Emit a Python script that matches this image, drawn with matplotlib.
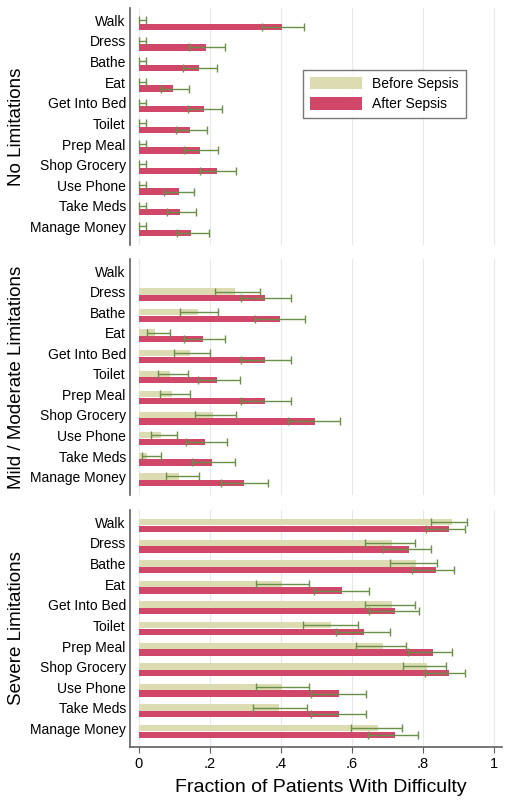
import numpy as np
import matplotlib
matplotlib.use("Agg")
import matplotlib.pyplot as plt
from matplotlib.patches import Patch

plt.rcParams['font.family'] = ['Liberation Sans', 'DejaVu Sans']

activities = ["Walk", "Dress", "Bathe", "Eat", "Get Into Bed", "Toilet",
              "Prep Meal", "Shop Grocery", "Use Phone", "Take Meds", "Manage Money"]
panel_titles = ["No Limitations", "Mild / Moderate Limitations", "Severe Limitations"]
series_labels = ["Before Sepsis", "After Sepsis"]
xtick_vals = [0, 0.2, 0.4, 0.6, 0.8, 1.0]
xtick_labels = ["0", ".2", ".4", ".6", ".8", "1"]
xlabel = "Fraction of Patients With Difficulty"

nan = np.nan
# No limitations
none_before = [0, 0, 0, 0, 0, 0, 0, 0, 0, 0, 0]
none_before_lo = [0, 0, 0, 0, 0, 0, 0, 0, 0, 0, 0]
none_before_hi = [0.019] * 11
none_after = [0.404, 0.189, 0.168, 0.097, 0.182, 0.144, 0.171, 0.220, 0.112, 0.115, 0.148]
none_after_lo = [0.347, 0.142, 0.123, 0.063, 0.139, 0.104, 0.126, 0.172, 0.072, 0.078, 0.106]
none_after_hi = [0.464, 0.243, 0.219, 0.140, 0.235, 0.192, 0.222, 0.273, 0.156, 0.160, 0.197]
# Mild / moderate
mild_before = [nan, 0.271, 0.165, 0.046, 0.144, 0.087, 0.092, 0.210, 0.061, 0.023, 0.112]
mild_before_lo = [nan, 0.215, 0.116, 0.023, 0.100, 0.053, 0.059, 0.158, 0.035, 0.009, 0.075]
mild_before_hi = [nan, 0.340, 0.224, 0.088, 0.201, 0.137, 0.143, 0.273, 0.106, 0.061, 0.168]
mild_after = [nan, 0.356, 0.397, 0.180, 0.356, 0.221, 0.356, 0.495, 0.186, 0.207, 0.295]
mild_after_lo = [nan, 0.288, 0.328, 0.128, 0.288, 0.166, 0.288, 0.419, 0.132, 0.150, 0.230]
mild_after_hi = [nan, 0.427, 0.468, 0.243, 0.427, 0.286, 0.427, 0.566, 0.249, 0.271, 0.363]
# Severe
sev_before = [0.881, 0.711, 0.780, 0.402, 0.711, 0.540, 0.687, 0.811, 0.402, 0.394, 0.673]
sev_before_lo = [0.821, 0.637, 0.708, 0.329, 0.637, 0.463, 0.612, 0.743, 0.329, 0.322, 0.597]
sev_before_hi = [0.923, 0.777, 0.839, 0.480, 0.777, 0.617, 0.753, 0.865, 0.480, 0.474, 0.741]
sev_after = [0.874, 0.761, 0.836, 0.571, 0.722, 0.635, 0.828, 0.872, 0.563, 0.563, 0.721]
sev_after_lo = [0.807, 0.687, 0.769, 0.492, 0.647, 0.555, 0.758, 0.805, 0.484, 0.484, 0.645]
sev_after_hi = [0.919, 0.822, 0.886, 0.647, 0.787, 0.706, 0.881, 0.918, 0.639, 0.639, 0.785]

panels = [
    (none_before, none_before_lo, none_before_hi, none_after, none_after_lo, none_after_hi),
    (mild_before, mild_before_lo, mild_before_hi, mild_after, mild_after_lo, mild_after_hi),
    (sev_before, sev_before_lo, sev_before_hi, sev_after, sev_after_lo, sev_after_hi),
]

c_before = '#dcdbb2'
c_after = '#d0476a'
c_err = '#6a8f48'
c_spine = '#606060'

W, H = 513, 809
fig = plt.figure(figsize=(W / 100, H / 100), dpi=100)
tops = [8, 259, 510]
bots = [245, 495, 747]
left_px, right_px = 130, 502
axw = right_px - left_px

y = np.arange(len(activities))
bh = 0.31
off = 0.16

for k, (ax_top, ax_bot) in enumerate(zip(tops, bots)):
    ax = fig.add_axes([left_px / W, 1 - ax_bot / H, axw / W, (ax_bot - ax_top) / H])
    b, blo, bhi, a, alo, ahi = [np.array(v, dtype=float) for v in panels[k]]
    ax.barh(y - off, b, height=bh, color=c_before, zorder=2)
    ax.barh(y + off, a, height=bh, color=c_after, zorder=2)
    for yy, v, lo, hi in ((y - off, b, blo, bhi), (y + off, a, alo, ahi)):
        ax.errorbar(v, yy, xerr=[v - lo, hi - v], fmt='none', ecolor=c_err,
                    elinewidth=1.0, capsize=3.2, capthick=1.0, zorder=3)
    ax.set_xlim(-0.025, 1.022)
    ax.set_ylim(10.75, -0.75)
    ax.set_yticks(y - 0.15)
    ax.set_yticklabels(activities, fontsize=10)
    ax.tick_params(axis='y', length=0, pad=3)
    ax.set_xticks(xtick_vals)
    ax.grid(axis='x', color='#e8e8e8', lw=0.8, zorder=0)
    ax.set_axisbelow(True)
    for s in ['top', 'right']:
        ax.spines[s].set_visible(False)
    ax.spines['left'].set_color(c_spine)
    ax.spines['left'].set_linewidth(1.2)
    ax.set_ylabel(panel_titles[k], fontsize=13.5, va='center')
    ax.yaxis.set_label_coords((17 - left_px) / axw, 0.5)
    if k < 2:
        ax.spines['bottom'].set_visible(False)
        ax.tick_params(axis='x', length=0, labelbottom=False)
    else:
        ax.spines['bottom'].set_color(c_spine)
        ax.spines['bottom'].set_linewidth(1.2)
        ax.set_xticklabels(xtick_labels, fontsize=10.5)
        ax.tick_params(axis='x', length=4, color=c_spine, pad=3)
        ax.set_xlabel(xlabel, fontsize=14, va='center')
        ax.xaxis.set_label_coords((321 - left_px) / axw, -(788 - ax_bot) / (ax_bot - ax_top))

handles = [Patch(facecolor=c_before, edgecolor='none'), Patch(facecolor=c_after, edgecolor='none')]
leg = fig.legend(handles, series_labels, loc='upper left', bbox_to_anchor=(303 / W, 1 - 70 / H),
                 bbox_transform=fig.transFigure, fontsize=10, frameon=True, fancybox=False,
                 handlelength=3.74, handleheight=1.0, handletextpad=0.76, borderpad=0.5,
                 labelspacing=0.45, borderaxespad=0)
leg.get_frame().set_edgecolor('#555555')
leg.get_frame().set_linewidth(1.0)

fig.savefig('out.png', dpi=100)
